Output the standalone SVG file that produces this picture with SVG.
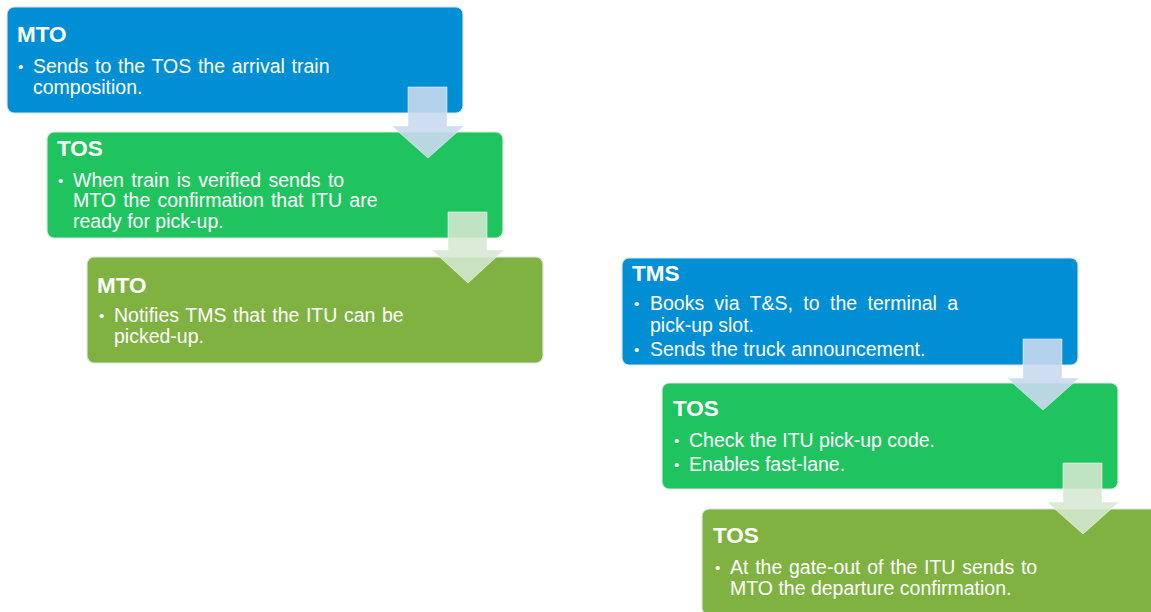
<svg xmlns="http://www.w3.org/2000/svg" width="1151" height="612" viewBox="0 0 1151 612">
<style>
.box{stroke:#e2e2e2;stroke-width:1.2}
.blue{fill:#008fd5}
.green{fill:#20c45f}
.olive{fill:#7fb241}
.t{font-family:"Liberation Sans",Arial,sans-serif;fill:#ffffff}
.h{font-size:22.5px;font-weight:bold}
.b{font-size:19.5px}
.d{font-size:15px}
.arB{fill:#c9d9ee;fill-opacity:0.9;stroke:#ffffff;stroke-opacity:0.5;stroke-width:1}
.arG{fill:#d6e8d2;fill-opacity:0.88;stroke:#ffffff;stroke-opacity:0.5;stroke-width:1}
</style>
<rect width="1151" height="612" fill="#ffffff"/>
<g id="node-mto-1">
<rect class="box blue" x="7" y="7" width="456" height="106" rx="7"/>
<text class="t h" x="17" y="42">MTO</text>
<text class="t d" x="18" y="72">•</text>
<text class="t b" x="33" y="73" word-spacing="1.3">Sends to the TOS the arrival train</text>
<text class="t b" x="33" y="94">composition.</text>
</g>
<g id="node-tos-1">
<rect class="box green" x="47" y="132" width="456" height="106" rx="7"/>
<text class="t h" x="57" y="156">TOS</text>
<text class="t d" x="58" y="186">•</text>
<text class="t b" x="73" y="187" word-spacing="2">When train is verified sends to</text>
<text class="t b" x="73" y="207" word-spacing="1.8">MTO the confirmation that ITU are</text>
<text class="t b" x="73" y="228">ready for pick-up.</text>
</g>
<g id="node-mto-2">
<rect class="box olive" x="87" y="257" width="456" height="106" rx="7"/>
<text class="t h" x="97" y="293">MTO</text>
<text class="t d" x="99" y="321">•</text>
<text class="t b" x="114" y="322" word-spacing="1.2">Notifies TMS that the ITU can be</text>
<text class="t b" x="114" y="343">picked-up.</text>
</g>
<g id="node-tms">
<rect class="box blue" x="622" y="258" width="456" height="107" rx="7"/>
<text class="t h" x="632" y="281">TMS</text>
<text class="t d" x="634" y="309">•</text>
<text class="t b" x="650" y="310" word-spacing="5">Books via T&amp;S, to the terminal a</text>
<text class="t b" x="650" y="332">pick-up slot.</text>
<text class="t d" x="634" y="355">•</text>
<text class="t b" x="650" y="356">Sends the truck announcement.</text>
</g>
<g id="node-tos-2">
<rect class="box green" x="662" y="383" width="456" height="106" rx="7"/>
<text class="t h" x="673" y="416">TOS</text>
<text class="t d" x="674" y="446">•</text>
<text class="t b" x="689" y="447">Check the ITU pick-up code.</text>
<text class="t d" x="674" y="470">•</text>
<text class="t b" x="689" y="471">Enables fast-lane.</text>
</g>
<g id="node-tos-3">
<rect class="box olive" x="702" y="509" width="456" height="106" rx="7"/>
<text class="t h" x="713" y="543">TOS</text>
<text class="t d" x="715" y="573">•</text>
<text class="t b" x="730" y="574" word-spacing="1.3">At the gate-out of the ITU sends to</text>
<text class="t b" x="730" y="595">MTO the departure confirmation.</text>
</g>
<g id="connectors">
<polygon class="arB" points="408,87 447,87 447,126 464,126 428,158 392,126 408,126"/>
<polygon class="arG" points="448,212 487,212 487,250 504,250 468,283 432,250 448,250"/>
<polygon class="arB" points="1023,339 1062,339 1062,378 1079,378 1043,410 1007,378 1023,378"/>
<polygon class="arG" points="1063,463 1102,463 1102,502 1119,502 1083,534 1047,502 1063,502"/>
</g>
</svg>
